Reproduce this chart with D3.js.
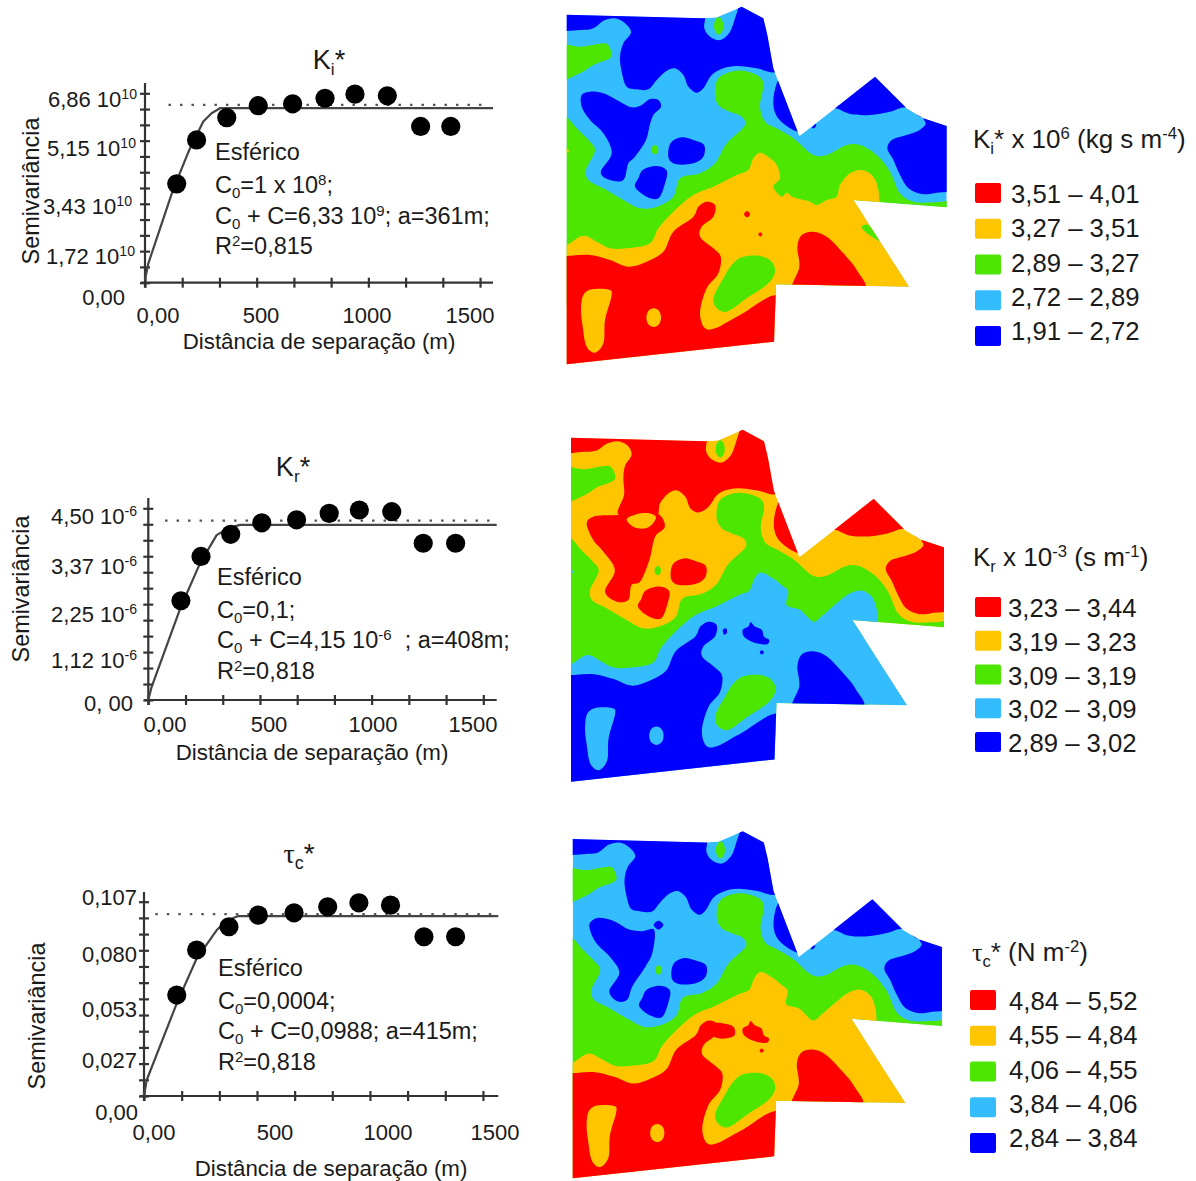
<!DOCTYPE html>
<html>
<head>
<meta charset="utf-8">
<script src="https://cdn.jsdelivr.net/npm/d3@7"></script>
<style>
  html, body { margin: 0; background: #fff; }
  text { font-family: "Liberation Sans", Arial, sans-serif; fill: #1a1a1a; white-space: pre; }
</style>
</head>
<body>
<svg id="chart" width="1196" height="1181"></svg>
<script>
// semivariogram readings: distance (m), semivariance
const kiDist = [142, 231, 366, 507, 661, 806, 940, 1085, 1234, 1369];
const kiGamma = [3.58, 5.17, 5.98, 6.41, 6.48, 6.68, 6.83, 6.77, 5.66, 5.66];
const kiFitDist = [0, 15, 125, 195, 261, 298, 336, 1558];
const kiFitGamma = [0.1, 0.7, 3.35, 4.75, 5.84, 6.14, 6.32, 6.32];
const krDist = [146, 236, 369, 508, 664, 810, 945, 1090, 1231, 1376];
const krGamma = [2.33, 3.37, 3.89, 4.16, 4.23, 4.38, 4.46, 4.42, 3.68, 3.68];
const krFitDist = [0, 15, 146, 231, 306, 358, 410, 1560];
const krFitGamma = [0, 0.31, 2.19, 3.2, 3.87, 4.03, 4.11, 4.11];
const tcDist = [145, 233, 376, 506, 664, 813, 951, 1091, 1239, 1379];
const tcGamma = [0.0556, 0.0804, 0.0932, 0.0996, 0.1009, 0.1042, 0.1064, 0.1051, 0.0877, 0.0877];
const tcFitDist = [0, 12, 145, 233, 322, 366, 417, 1568];
const tcFitGamma = [0, 0.0088, 0.0510, 0.0757, 0.0914, 0.0965, 0.0991, 0.0991];

const kiTicks = ["1,72 10^{10}", "3,43 10^{10}", "5,15 10^{10}", "6,86 10^{10}"];
const krTicks = ["1,12 10^{-6}", "2,25 10^{-6}", "3,37 10^{-6}", "4,50 10^{-6}"];
const tcTicks = ["0,027", "0,053", "0,080", "0,107"];

const kiStats = ["Esférico", "C_{0}=1 x 10^{8};", "C_{0} + C=6,33 10^{9}; a=361m;", "R^{2}=0,815"];
const krStats = ["Esférico", "C_{0}=0,1;", "C_{0} + C=4,15 10^{-6}  ; a=408m;", "R^{2}=0,818"];
const tcStats = ["Esférico", "C_{0}=0,0004;", "C_{0} + C=0,0988; a=415m;", "R^{2}=0,818"];

// legend classes, same order in all three
const classColors = ["#ff0000", "#ffc600", "#4de600", "#33bdff", "#0000ff"];
const kiClasses = ["3,51 – 4,01", "3,27 – 3,51", "2,89 – 3,27", "2,72 – 2,89", "1,91 – 2,72"];
const krClasses = ["3,23 – 3,44", "3,19 – 3,23", "3,09 – 3,19", "3,02 – 3,09", "2,89 – 3,02"];
const tcClasses = ["4,84 – 5,52", "4,55 – 4,84", "4,06 – 4,55", "3,84 – 4,06", "2,84 – 3,84"];

// field outline and zones, in field units
const outline = [[20,44],[430,55],[470,52],[545,20],[610,55],[622,105],[640,205],[718,408],[825,325],[945,230],[1040,325],[1090,355],[1160,378],[1160,622],[880,600],[1047,860],[648,853],[642,1025],[20,1093]];

const topBand = [[-30,85],[60,90],[100,85],[130,62],[165,55],[195,70],[213,97],[190,130],[180,170],[185,215],[200,260],[230,268],[265,268],[290,240],[320,212],[345,205],[370,225],[385,260],[410,278],[430,265],[455,225],[490,205],[530,198],[590,205],[650,215],[700,150],[640,-10],[548,0],[530,40],[510,95],[480,120],[450,110],[433,85],[428,30],[300,0],[-30,0]];
const topBandKr = [[-30,85],[60,87],[100,82],[130,62],[165,55],[195,70],[205,97],[185,130],[180,168],[182,219],[163,275],[200,287],[280,287],[292,245],[320,212],[345,205],[370,225],[385,260],[410,272],[440,255],[465,220],[490,205],[530,198],[590,205],[650,215],[700,150],[640,-10],[548,0],[530,40],[510,95],[480,120],[450,110],[433,85],[428,30],[300,0],[-30,0]];
const isleWest = [[65,285],[90,275],[130,280],[170,300],[215,322],[245,315],[270,297],[295,300],[303,320],[280,345],[268,380],[258,420],[225,470],[205,490],[190,540],[150,540],[122,518],[155,460],[130,400],[90,360],[65,320]];
const isleWestKr = [[68,305],[88,285],[160,280],[282,275],[307,315],[277,346],[261,412],[231,483],[205,493],[195,539],[160,544],[124,514],[154,448],[119,392],[88,356]];
const isleWestTc = [[73,304],[96,288],[148,298],[194,324],[235,329],[271,324],[266,396],[245,438],[204,500],[188,541],[158,546],[133,515],[164,458],[138,412],[92,365],[73,324]];
const pocketKr = [[190,293],[218,278],[262,275],[280,288],[255,318],[215,318]];
const diamondTc = [[270,310],[285,297],[300,310],[285,324]];
const isleMid = [[335,425],[365,412],[400,420],[432,435],[430,470],[400,490],[350,493],[328,480],[325,450]];
const isleSouth = [[248,510],[290,498],[320,512],[315,550],[295,595],[260,590],[225,560],[235,535]];
const notchEast = [[655,240],[640,300],[648,345],[680,378],[722,395],[735,350],[680,225]];
const cornerNE = [[800,340],[825,325],[870,342],[930,345],[990,335],[1040,322],[1090,352],[1120,300],[950,190],[800,290]];
const tipEast = [[1092,352],[1097,372],[1075,392],[1040,405],[995,420],[982,445],[1000,480],[1020,525],[1045,565],[1085,582],[1130,578],[1175,565],[1190,450],[1180,360]];
const sliverNE = [[755,384],[763,374],[769,374],[763,384]];

const greenNW = [[-20,135],[60,140],[135,130],[150,145],[153,172],[100,195],[60,220],[-20,243]];
const greenNotch = [[476,52],[486,60],[490,78],[486,96],[476,104],[466,96],[462,78],[466,60]];
const greenSpot = [[285,435],[292,439],[295,449],[292,459],[285,463],[278,459],[275,449],[278,439]];
const greenMain = [[-10,335],[20,350],[50,385],[85,420],[105,450],[78,510],[85,540],[130,565],[190,600],[240,625],[290,620],[340,590],[360,535],[420,520],[465,490],[500,430],[555,375],[545,350],[510,335],[480,320],[465,290],[475,235],[530,212],[590,225],[610,250],[600,320],[615,365],[650,385],[700,415],[760,465],[800,465],[860,435],[900,435],[950,465],[990,515],[1020,580],[1060,605],[1130,607],[1190,604],[1190,660],[900,660],[900,900],[-10,900]];

const bandMain = [[-10,742],[20,735],[70,707],[110,725],[150,745],[200,745],[270,730],[295,685],[340,635],[400,585],[460,560],[530,525],[565,510],[580,475],[600,458],[630,475],[650,495],[660,535],[640,560],[665,590],[680,578],[700,592],[750,605],[770,615],[800,600],[830,590],[840,555],[870,520],[905,510],[940,530],[955,570],[958,606],[965,660],[1100,900],[660,1100],[-10,1130],[-10,800]];
const bandKrTc = [[-10,742],[20,735],[70,707],[110,725],[150,745],[200,745],[270,730],[295,685],[340,635],[400,585],[460,560],[530,525],[565,510],[580,475],[600,455],[640,475],[665,495],[684,513],[679,554],[720,569],[761,605],[790,585],[832,549],[870,520],[908,510],[940,530],[955,570],[958,606],[965,660],[1100,900],[660,1100],[-10,1130],[-10,800]];
const greenSE = [[905,680],[925,675],[958,722],[935,710],[915,695]];
const spotW = [[15,445],[27,452],[15,462]];

const lowMain = [[-10,769],[20,768],[90,765],[150,780],[205,800],[260,785],[310,755],[340,695],[400,650],[415,620],[440,605],[465,615],[460,650],[425,680],[420,710],[460,745],[482,770],[475,820],[440,865],[420,940],[435,985],[465,985],[540,945],[660,888],[700,1060],[-10,1130],[-10,820]];
const lowEast = [[712,740],[725,705],[760,695],[800,710],[850,760],[890,810],[912,870],[700,880],[718,800]];
const dotA = [[561,634],[567,637],[570,643],[567,649],[561,652],[555,649],[552,643],[555,637]];
const dotB = [[601,697],[607,703],[601,710],[595,703]];
const isleCenter = [[545,630],[562,620],[569,607],[582,620],[603,630],[610,651],[626,661],[620,674],[587,671],[562,661],[547,648]];
const dotC = [[603,692],[610,698],[603,705],[597,698]];
const dotD = [[484,630],[494,625],[497,638],[488,645]];
const blobTc = [[455,615],[490,615],[517,625],[520,650],[496,660],[470,660],[450,650]];
const barSW = [[70,885],[95,868],[150,870],[155,885],[135,960],[130,1030],[105,1058],[80,1040],[68,980],[63,930]];
const roundSW = [[281,925],[297,933],[303,953],[297,973],[281,981],[265,973],[259,953],[265,933]];
const greenCore = [[515,795],[545,772],[600,768],[635,785],[645,815],[625,850],[560,895],[500,935],[470,925],[460,895],[490,835]];

// zones per map, painted in order: [class, zone]
const kiZones = [[4,topBand],[4,isleWest],[4,isleMid],[4,isleSouth],[4,notchEast],[4,cornerNE],[4,tipEast],[4,sliverNE],
  [2,greenNW],[2,greenNotch],[2,greenSpot],[2,greenMain],[1,bandMain],[1,spotW],[2,greenSE],
  [0,lowMain],[0,lowEast],[0,dotA],[0,dotB],[1,barSW],[1,roundSW],[2,greenCore]];
const krZones = [[0,topBandKr],[0,isleWestKr],[1,pocketKr],[0,isleMid],[0,isleSouth],[0,notchEast],[0,cornerNE],[0,tipEast],
  [2,greenNW],[2,greenNotch],[2,greenSpot],[2,greenMain],[3,bandKrTc],[3,spotW],
  [4,lowMain],[4,lowEast],[4,isleCenter],[4,dotC],[4,dotD],[3,barSW],[3,roundSW],[2,greenCore]];
const tcZones = [[4,topBand],[4,isleWestTc],[4,diamondTc],[4,isleMid],[4,isleSouth],[4,notchEast],[4,cornerNE],[4,tipEast],[4,sliverNE],
  [2,greenNW],[2,greenNotch],[2,greenSpot],[2,greenMain],[1,bandKrTc],
  [0,lowMain],[0,blobTc],[0,lowEast],[0,isleCenter],[0,dotC],[1,barSW],[1,roundSW],[2,greenCore]];

const svg = d3.select("#chart");

// tiny markup: ^{..} superscript, _{..} subscript, tau in a serif face
function rich(sel, str, size) {
  const parts = str.split(/(\^\{[^}]*\}|_\{[^}]*\}|τ)/).filter(s => s !== "");
  let back = 0;
  parts.forEach(p => {
    const sup = p.startsWith("^{");
    const sub = p.startsWith("_{");
    const t = sel.append("tspan");
    let shift = 0;
    if(sup) shift = -size * 0.36;
    if(sub) shift = size * 0.22;
    if(sup || sub) {
      t.text(p.slice(2, -1)).attr("font-size", size * 0.64);
    } else {
      t.text(p);
    }
    if(p === "τ") t.attr("font-family", "Liberation Serif");
    t.attr("dy", back + shift);
    back = -shift;
  });
}

function label(g, str, x, y, size, anchor) {
  const t = g.append("text")
    .attr("x", x)
    .attr("y", y)
    .attr("font-size", size)
    .attr("text-anchor", anchor || "start");
  rich(t, str, size);
  return t;
}

function drawVariogram(o) {
  const g = svg.append("g");
  const x = d3.scaleLinear().domain([0, o.xMax]).range([o.x0, o.x1]);
  const y = d3.scaleLinear().domain([0, o.yMax]).range([o.y0, o.y1]);

  const xAxis = d3.axisBottom(x).tickValues(d3.range(0, 1501, 500 / 3)).tickFormat("").tickSize(4);
  const yAxis = d3.axisLeft(y).tickValues(d3.range(0, 13).map(i => o.yMax * i / 12)).tickFormat("").tickSize(4);

  const ax = g.append("g").attr("transform", `translate(0,${o.y0})`).call(xAxis);
  const ay = g.append("g").attr("transform", `translate(${o.x0},0)`).call(yAxis);
  ax.select(".domain").remove();
  ay.select(".domain").remove();
  ax.selectAll(".tick line").attr("y1", -5).attr("y2", 5).attr("stroke", "#333").attr("stroke-width", 2.2);
  ay.selectAll(".tick line").attr("x1", -5).attr("x2", 5).attr("stroke", "#333").attr("stroke-width", 2.2);

  g.append("line").attr("x1", o.x0 - 4).attr("x2", o.x1).attr("y1", o.y0).attr("y2", o.y0)
    .attr("stroke", "#333").attr("stroke-width", 2.2);
  g.append("line").attr("x1", o.x0).attr("x2", o.x0).attr("y1", o.y0 + 5).attr("y2", o.yTop)
    .attr("stroke", "#333").attr("stroke-width", 2.2);

  // dotted line of the sample variance
  g.append("line")
    .attr("x1", x(o.dotFrom)).attr("x2", o.x1 - 3)
    .attr("y1", y(o.variance)).attr("y2", y(o.variance))
    .attr("stroke", "#555").attr("stroke-width", 2.2).attr("stroke-dasharray", "2.5,9");

  const line = d3.line().x((d, i) => x(d)).y((d, i) => y(o.fitGamma[i]));
  g.append("path").attr("d", line(o.fitDist))
    .attr("fill", "none").attr("stroke", "#444").attr("stroke-width", 2.2).attr("stroke-linejoin", "round");

  g.selectAll("circle").data(o.dist).enter().append("circle")
    .attr("cx", d => x(d))
    .attr("cy", (d, i) => y(o.gamma[i]))
    .attr("r", 9.6)
    .attr("fill", "#000");

  // tick labels sit off their ticks in the original
  o.yLabels.forEach((s, i) => label(g, s, o.yLabelX[i], o.yLabelY[i], 22, "end"));
  ["0,00", "500", "1000", "1500"].forEach((s, i) => label(g, s, o.xLabelX[i], o.xLabelBase, 22, "middle"));

  label(g, o.title, o.titleX, o.titleY, o.titleSize, "middle");
  label(g, "Distância de separação (m)", o.xTitleX, o.xTitleY, 22.3, "middle");
  label(g, "Semivariância", 0, 0, 23.4, "middle")
    .attr("transform", `translate(${o.yTitleX},${o.yTitleY}) rotate(-90)`);

  o.stats.forEach((s, i) => label(g, s, o.statX, o.statY[i], 23.5));
}

function drawMap(o, id) {
  const g = svg.append("g");
  const x = d3.scaleLinear().domain([20, 1160]).range(o.xRange);
  const y = d3.scaleLinear().domain([44, 1093]).range(o.yRange);

  const edge = d3.line().x(d => x(d[0])).y(d => y(d[1])).curve(d3.curveLinearClosed);
  const smooth = d3.line().x(d => x(d[0])).y(d => y(d[1])).curve(d3.curveCatmullRomClosed.alpha(0.25));

  svg.append("clipPath").attr("id", id).append("path").attr("d", edge(outline));
  const inner = g.append("g").attr("clip-path", `url(#${id})`);
  inner.append("path").attr("d", edge(outline)).attr("fill", classColors[o.base]);
  inner.selectAll("path.zone").data(o.zones).enter().append("path")
    .attr("class", "zone")
    .attr("d", d => smooth(d[1]))
    .attr("fill", d => classColors[d[0]]);
}

function drawLegend(o) {
  const g = svg.append("g");
  label(g, o.title, o.titleX, o.titleY, 26);
  const box = d3.scaleLinear().domain([0, 4]).range(o.boxes);
  const row = d3.scaleLinear().domain([0, 4]).range(o.rows);
  o.classes.forEach((s, i) => {
    g.append("rect")
      .attr("x", o.boxX).attr("y", box(i) - 10)
      .attr("width", 26).attr("height", 20).attr("rx", 2)
      .attr("fill", classColors[i]);
    label(g, s, o.textX, row(i) + 9, 25.7);
  });
}

drawVariogram({
  dist: kiDist, gamma: kiGamma, fitDist: kiFitDist, fitGamma: kiFitGamma, variance: 6.44, dotFrom: 105,
  x0: 145, x1: 493, xMax: 1558, y0: 282.7, y1: 93.3, yMax: 6.86, yTop: 83,
  yLabels: ["0,00"].concat(kiTicks), yLabelX: [125, 135, 132, 136, 137], yLabelY: [305, 264, 214, 156, 107],
  xLabelX: [158, 261, 367, 470], xLabelBase: 323,
  title: "K_{i}*", titleX: 329, titleY: 69, titleSize: 27,
  xTitleX: 319, xTitleY: 349, yTitleX: 39, yTitleY: 191,
  stats: kiStats, statX: 215, statY: [160, 193, 224, 254]
});
drawVariogram({
  dist: krDist, gamma: krGamma, fitDist: krFitDist, fitGamma: krFitGamma, variance: 4.21, dotFrom: 75,
  x0: 148.3, x1: 496.7, xMax: 1560, y0: 700, y1: 508.3, yMax: 4.5, yTop: 498,
  yLabels: ["0, 00"].concat(krTicks), yLabelX: [133, 137, 137, 137, 137], yLabelY: [711, 668, 622, 574, 524],
  xLabelX: [165, 269, 373, 473], xLabelBase: 732,
  title: "K_{r}*", titleX: 293, titleY: 476, titleSize: 27,
  xTitleX: 312, xTitleY: 760, yTitleX: 29, yTitleY: 589,
  stats: krStats, statX: 217, statY: [585, 618, 648, 679]
});
drawVariogram({
  dist: tcDist, gamma: tcGamma, fitDist: tcFitDist, fitGamma: tcFitGamma, variance: 0.1002, dotFrom: 50,
  x0: 144, x1: 498.3, xMax: 1568, y0: 1096, y1: 901.7, yMax: 0.107, yTop: 892,
  yLabels: ["0,00"].concat(tcTicks), yLabelX: [138, 137, 137, 137, 137], yLabelY: [1120, 1068, 1017, 962, 905],
  xLabelX: [154, 275, 388, 495], xLabelBase: 1140,
  title: "τ_{c}*", titleX: 299, titleY: 863, titleSize: 28,
  xTitleX: 331, xTitleY: 1176, yTitleX: 45, yTitleY: 1016,
  stats: tcStats, statX: 218, statY: [976, 1009, 1039, 1070]
});

drawMap({ xRange: [566.7, 946.7], yRange: [14.7, 364.3], base: 3, zones: kiZones }, "clip-ki");
drawMap({ xRange: [571, 944], yRange: [437.7, 781.7], base: 1, zones: krZones }, "clip-kr");
drawMap({ xRange: [572.7, 942], yRange: [839, 1178.3], base: 3, zones: tcZones }, "clip-tc");

drawLegend({ title: "K_{i}* x 10^{6} (kg s m^{-4})", titleX: 973, titleY: 148, classes: kiClasses, boxX: 975, textX: 1011, rows: [194, 331], boxes: [193, 336] });
drawLegend({ title: "K_{r} x 10^{-3} (s m^{-1})", titleX: 973, titleY: 566, classes: krClasses, boxX: 975, textX: 1008, rows: [608, 743], boxes: [607, 742] });
drawLegend({ title: "τ_{c}* (N m^{-2})", titleX: 972, titleY: 961, classes: tcClasses, boxX: 970, textX: 1009, rows: [1001, 1138], boxes: [1000, 1143] });
</script>
</body>
</html>
